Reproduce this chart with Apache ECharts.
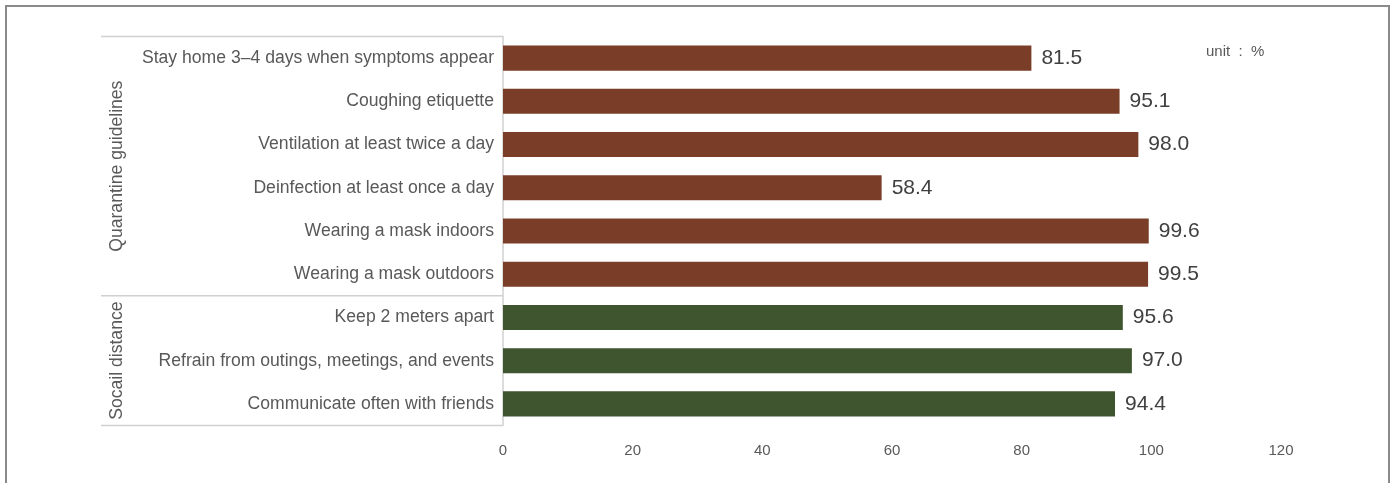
<!DOCTYPE html>
<html>
<head>
<meta charset="utf-8">
<script src="https://cdn.jsdelivr.net/npm/echarts@6/dist/echarts.min.js"></script>
<style>
  html, body { margin: 0; padding: 0; background: #ffffff; }
  #chart { width: 1394px; height: 483px; }
</style>
</head>
<body>
<div id="chart"></div>
<script>
// Survey items, top to bottom
const categories = [
  'Stay home 3\u20134 days when symptoms appear',
  'Coughing etiquette',
  'Ventilation at least twice a day',
  'Deinfection at least once a day',
  'Wearing a mask indoors',
  'Wearing a mask outdoors',
  'Keep 2 meters apart',
  'Refrain from outings, meetings, and events',
  'Communicate often with friends'
];
// Compliance rate (%)
const values = [81.5, 95.1, 98.0, 58.4, 99.6, 99.5, 95.6, 97.0, 94.4];
// Item groups and how many consecutive items each covers
const groupNames = ['Quarantine guidelines', 'Socail distance'];
const groupCounts = [6, 3];
const groupColors = ['#7a3e28', '#3e5530'];
const xTicks = [0, 20, 40, 60, 80, 100, 120];
const unitText = 'unit  :  %';

const barData = [];
let gi = 0, left = groupCounts[0];
values.forEach(function (v, i) {
  while (left === 0) { gi++; left = groupCounts[gi]; }
  barData.push({ value: v, itemStyle: { color: groupColors[gi] } });
  left--;
});

const chart = echarts.init(document.getElementById('chart'));
const GRID = { left: 503, right: 113, top: 36.5, bottom: 57.5 };

chart.setOption({
  backgroundColor: '#ffffff',
  animation: false,
  grid: GRID,
  xAxis: {
    type: 'value',
    min: xTicks[0],
    max: xTicks[xTicks.length - 1],
    interval: xTicks[1] - xTicks[0],
    axisLine: { show: false },
    axisTick: { show: false },
    splitLine: { show: false },
    axisLabel: {
      color: '#595959',
      fontSize: 15,
      fontFamily: 'Liberation Sans Narrow, Liberation Sans, Arial, sans-serif',
      margin: 18
    }
  },
  yAxis: {
    type: 'category',
    inverse: true,
    data: categories,
    axisLine: { show: true, lineStyle: { color: '#d0d0d0', width: 1.5 } },
    axisTick: { show: false },
    axisLabel: {
      color: '#595959',
      fontSize: 17.6,
      fontFamily: 'Liberation Sans, Arial, sans-serif',
      margin: 9
    }
  },
  series: [{
    type: 'bar',
    data: barData,
    barCategoryGap: '42%',
    label: {
      show: true,
      position: 'right',
      distance: 10,
      color: '#404040',
      fontSize: 21,
      fontFamily: 'Liberation Sans, Arial, sans-serif',
      formatter: function (p) { return p.value.toFixed(1); }
    }
  }]
});

// Group brackets, group titles, unit note and outer frame
function drawDecor() {
  const top = chart.convertToPixel({ yAxisIndex: 0 }, 0);
  const next = chart.convertToPixel({ yAxisIndex: 0 }, 1);
  const band = next - top;
  const axisX = chart.convertToPixel({ xAxisIndex: 0 }, 0);
  const lineLeft = 101;
  const els = [];
  let start = 0;
  const bounds = [top - band / 2];
  groupCounts.forEach(function (c) {
    start += c;
    bounds.push(top - band / 2 + start * band);
  });
  bounds.forEach(function (y) {
    els.push({
      type: 'line',
      shape: { x1: lineLeft, y1: y, x2: axisX, y2: y },
      style: { stroke: '#d0d0d0', lineWidth: 1.5 },
      silent: true
    });
  });
  groupNames.forEach(function (name, i) {
    const cy = (bounds[i] + bounds[i + 1]) / 2;
    els.push({
      type: 'text',
      x: 117, y: cy,
      rotation: Math.PI / 2,
      style: {
        text: name,
        fill: '#595959',
        font: '17.6px "Liberation Sans", Arial, sans-serif',
        align: 'center',
        verticalAlign: 'middle'
      },
      silent: true
    });
  });
  els.push({
    type: 'text',
    x: 1206, y: 52,
    style: {
      text: unitText,
      fill: '#595959',
      font: '15px "Liberation Sans", Arial, sans-serif',
      align: 'left',
      verticalAlign: 'middle'
    },
    silent: true
  });
  els.push({
    type: 'rect',
    shape: { x: 6, y: 6, width: 1383, height: 500 },
    style: { fill: 'none', stroke: '#8a8a8a', lineWidth: 2 },
    silent: true
  });
  chart.setOption({ graphic: els });
}
drawDecor();
</script>
</body>
</html>
